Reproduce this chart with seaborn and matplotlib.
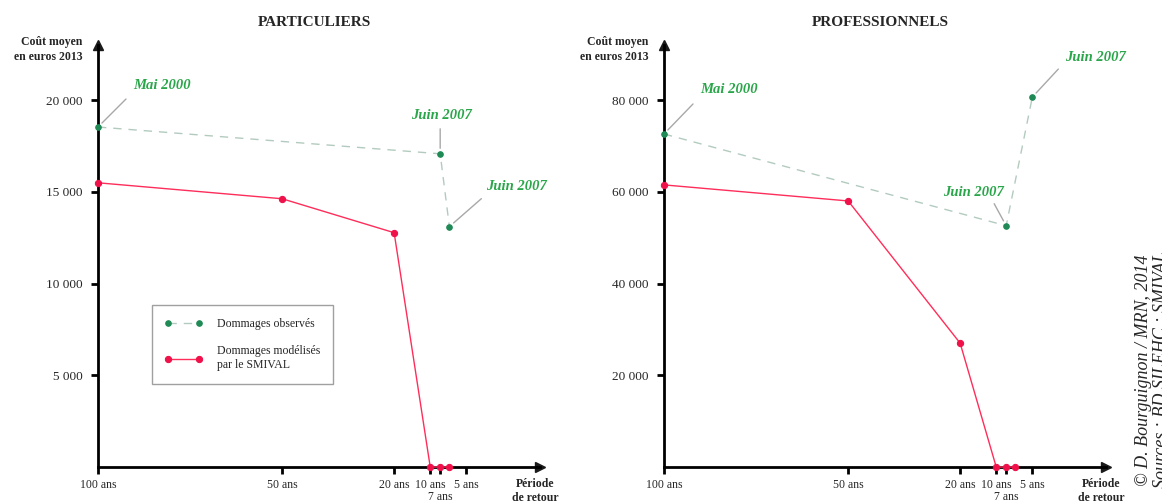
import numpy as np
import pandas as pd
import matplotlib.pyplot as plt
import seaborn as sns

# positions on the return-period axis (0 = 100 ans, 100 = 5 ans)
tick_pos = [0, 50, 80.4, 90.2, 92.9, 100]
tick_labels = ["100 ans", "50 ans", "20 ans", "10 ans", "", "5 ans"]
low_label = "7 ans"

x_model = [0, 50, 80.4, 90.2, 92.9, 95.4]
part_model = [15490, 14620, 12770, 0, 0, 0]
pro_model = [61500, 58000, 27000, 0, 0, 0]

x_obs_part = [0, 92.9, 95.4]
part_obs = [18530, 17070, 13100]
x_obs_pro = [0, 92.9, 100]
pro_obs = [72600, 52600, 80650]
obs_labels = ["Mai 2000", "Juin 2007", "Juin 2007"]

part_yticks = [5000, 10000, 15000, 20000]
part_ylabels = ["5 000", "10 000", "15 000", "20 000"]
pro_yticks = [20000, 40000, 60000, 80000]
pro_ylabels = ["20 000", "40 000", "60 000", "80 000"]

sns.set_theme(style="white")
plt.rcParams['font.family'] = ['Liberation Serif', 'DejaVu Serif']

green_pt = "#1f8a55"
green_line = "#b3cbbf"
green_txt = "#2aa64a"
red = "#ff2d5a"
red_pt = "#f0104a"
lead = "#a8a8a8"

fig = plt.figure(figsize=(11.62, 5.04), dpi=100)
ax1 = fig.add_axes([98 / 1162, 37 / 504, 442 / 1162, 422 / 504])
ax2 = fig.add_axes([664 / 1162, 37 / 504, 442 / 1162, 422 / 504])


def draw(ax, obs_x, obs_y, mod_y, ytop, yt, ytl, title, notes, legend=False):
    df_obs = pd.DataFrame({"x": obs_x, "y": obs_y})
    df_mod = pd.DataFrame({"x": x_model, "y": mod_y})
    sns.lineplot(data=df_obs, x="x", y="y", ax=ax, color=green_line, lw=1,
                 linestyle=(0, (6, 5)), marker="o", markersize=4,
                 markerfacecolor=green_pt, markeredgecolor=green_pt,
                 label="Dommages observés", sort=False, clip_on=False, zorder=4)
    sns.lineplot(data=df_mod, x="x", y="y", ax=ax, color=red, lw=1,
                 marker="o", markersize=4.5, markerfacecolor=red_pt,
                 markeredgecolor=red_pt, label="Dommages modélisés\npar le SMIVAL",
                 sort=False, clip_on=False, zorder=5)
    ax.set_xlim(0, 120)
    ax.set_ylim(0, ytop)
    ax.set_xticks(tick_pos)
    ax.set_xticklabels(tick_labels, fontsize=8.5)
    ax.set_yticks(yt)
    ax.set_yticklabels(ytl, fontsize=9.5)
    ax.tick_params(axis="both", direction="out", length=5, width=2, color="black",
                   bottom=True, left=True, pad=4)
    ax.tick_params(axis="y", pad=6)
    for s in ["top", "right"]:
        ax.spines[s].set_visible(False)
    for s in ["left", "bottom"]:
        ax.spines[s].set_linewidth(2)
        ax.spines[s].set_color("black")
    ax.plot(1, 0, ">k", markersize=7, transform=ax.get_yaxis_transform(), clip_on=False)
    ax.plot(0, 1, "^k", markersize=7, transform=ax.get_xaxis_transform(), clip_on=False)
    ax.set_xlabel("")
    ax.set_ylabel("")
    ax.text(tick_pos[4], -0.072, low_label, transform=ax.get_xaxis_transform(),
            ha="center", va="center", fontsize=8.5)
    ax.text(-0.035, 0.99, "Coût moyen\nen euros 2013", transform=ax.transAxes,
            ha="right", va="center", fontsize=8.5, fontweight="bold", linespacing=1.3)
    ax.text(0.99, -0.056, "Période\nde retour", transform=ax.transAxes,
            ha="center", va="center", fontsize=8.5, fontweight="bold", linespacing=1.25)
    ax.set_title(title, fontsize=11, fontweight="bold", y=1.0, pad=0)
    ax.title.set_position((0.49, 1.045))
    for (i, l0, l1, t, ha) in notes:
        ax.annotate("", xy=(obs_x[i], obs_y[i]), xytext=l1, textcoords="offset pixels",
                    arrowprops=dict(arrowstyle="-", color=lead, lw=1,
                                    shrinkA=0, shrinkB=4),
                    annotation_clip=False)
        ax.annotate(obs_labels[i], xy=(obs_x[i], obs_y[i]), xytext=t,
                    textcoords="offset pixels", ha=ha, va="center", color=green_txt,
                    fontsize=10.5, fontweight="bold", fontstyle="italic",
                    annotation_clip=False)
    if legend:
        leg = ax.legend(loc="upper left", bbox_to_anchor=(146 / 1162, 1 - 299 / 504),
                        bbox_transform=fig.transFigure, frameon=True, fancybox=False,
                        edgecolor="#888888", fontsize=8.5, numpoints=2,
                        handlelength=3.2, labelspacing=1.3, borderpad=1.1,
                        handletextpad=1.2)
        leg.get_frame().set_linewidth(1)
    else:
        ax.get_legend().remove()


draw(ax1, x_obs_part, part_obs, part_model, 23000, part_yticks, part_ylabels,
     "PARTICULIERS",
     [(0, (4, 5), (28, 28), (35, 42), "left"),
      (1, (0, 5), (0, 25), (1, 38), "center"),
      (2, (4, 4), (32, 28), (37, 40), "left")],
     legend=True)
draw(ax2, x_obs_pro, pro_obs, pro_model, 92000, pro_yticks, pro_ylabels,
     "PROFESSIONNELS",
     [(0, (4, 5), (29, 30), (36, 44), "left"),
      (1, (-2, 5), (-12, 22), (-33, 33), "center"),
      (2, (3, 4), (26, 28), (33, 40), "left")])

fig.text(1143 / 1162, 1 - 370 / 504, "© D. Bourguignon / MRN, 2014", rotation=90,
         ha="center", va="center", fontsize=13, fontstyle="italic")
fig.text(1161 / 1162, 1 - 370 / 504, "Sources : BD SILEHC ; SMIVAL", rotation=90,
         ha="center", va="center", fontsize=13, fontstyle="italic")

fig.savefig("out.png", dpi=100)
